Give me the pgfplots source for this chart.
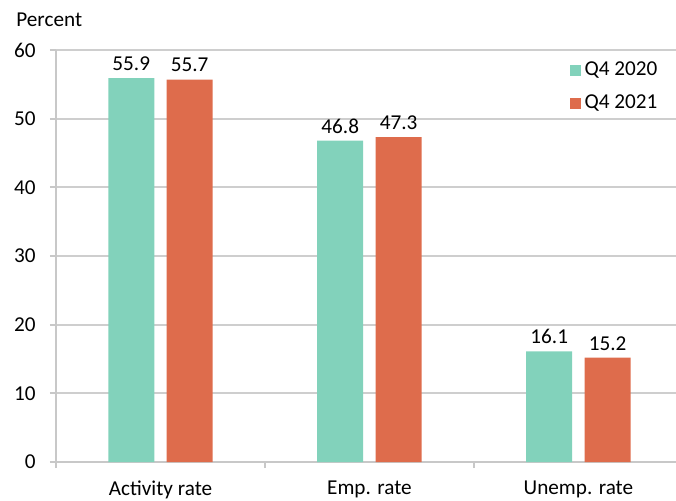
\documentclass[border=0pt]{standalone}
\usepackage{pgfplots}
\pgfplotsset{compat=1.18}
\usepackage{fontspec}
\setmainfont{Carlito}
\definecolor{teal1}{RGB}{130,210,187}
\definecolor{orng}{RGB}{222,108,76}
\definecolor{gridc}{RGB}{206,206,206}
\definecolor{axc}{RGB}{200,200,200}
\newcommand{\fs}{\fontsize{10.6pt}{12pt}\selectfont}
\begin{document}
\fs
\begin{tikzpicture}
\path[use as bounding box] (-28pt,-19pt) rectangle (310pt,231pt);
\begin{axis}[
  scale only axis,
  width=310pt, height=206pt,
  at={(0,0)}, anchor=south west,
  xmin=-0.5, xmax=2.467,
  ymin=0, ymax=60,
  ytick={0,10,...,60},
  xtick={0,1,2},
  xticklabels={Activity rate, Emp. rate, Unemp. rate},
  minor xtick={-0.5,0.5,1.5},
  axis x line*=bottom,
  axis y line*=left,
  axis line style={draw=axc, line width=1pt, -},
  ymajorgrids,
  grid style={draw=gridc, line width=1pt},
  major grid style={draw=gridc, line width=1pt},
  tick align=outside,
  x tick style={draw=none},
  minor x tick style={draw=axc, line width=1pt},
  minor tick length=3pt,
  y tick style={draw=axc, line width=1pt},
  major tick length=3pt,
  ybar, bar width=23pt,
  tick label style={font=\fs},
  /pgf/number format/assume math mode=true,
  yticklabel style={xshift=-3.5pt},
  xticklabel style={yshift=-2.8pt},
  nodes near coords,
  nodes near coords style={font=\fs, /pgf/number format/fixed, /pgf/number format/precision=1, /pgf/number format/fixed zerofill},
  legend style={draw=none, fill=none, at={(rel axis cs:0.977,0.982)}, anchor=north east,
    font=\fs, row sep=4pt, inner sep=0pt},
  legend cell align=left,
  legend image code/.code={\fill[#1] (0pt,-2.75pt) rectangle (5.5pt,2.75pt);},
  clip=false,
]
\addplot[fill=teal1, draw=none, bar shift=-14.6pt] coordinates {(0,55.9) (1,46.8) (2,16.1)};
\addplot[fill=orng, draw=none, bar shift=14.6pt] coordinates {(0,55.7) (1,47.3) (2,15.2)};
\legend{Q4 2020, Q4 2021}
\node[anchor=base west, font=\fs, inner sep=0pt] at ([xshift=-20pt,yshift=12pt]rel axis cs:0,1) {Percent};
\end{axis}
\end{tikzpicture}
\end{document}
